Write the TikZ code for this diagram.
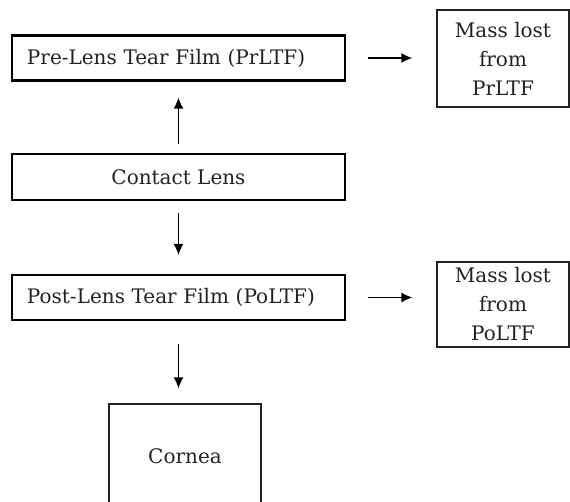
\documentclass[tikz,border=0pt]{standalone}
\usepackage{fontspec}
\setmainfont{DejaVu Serif}
\usepackage{tikz}
\usetikzlibrary{positioning,calc,arrows.meta}
\definecolor{inkgray}{HTML}{222222}
\tikzset{flow/.style={-{Latex[length=11pt,width=10pt]},line width=1.3pt,black}}

\begin{document}
\begin{tikzpicture}[x=1pt,y=-1pt]
		\tikzstyle{Film}=[rectangle,draw=black,line width=2.2pt,minimum height=45pt,text width=303pt,inner xsep=15pt,align=left,text=inkgray,font=\fontsize{20}{23}\selectfont]
		\tikzstyle{Lens}=[rectangle,draw=black,line width=2.2pt,minimum height=46pt,minimum width=333pt,align=center,text=inkgray,font=\fontsize{20}{23}\selectfont]
		\tikzstyle{Loss}=[rectangle,draw=inkgray,line width=1.3pt,minimum width=132pt,align=center,text=inkgray,font=\fontsize{20}{29}\selectfont]
		\tikzstyle{Tissue}=[rectangle,draw=inkgray,line width=1.3pt,minimum width=152pt,minimum height=104pt,align=center,text=inkgray,font=\fontsize{20}{23}\selectfont]

		\useasboundingbox (0,0) rectangle (570,501);

		\node [Film] (PrLTF) at (178.5,58) {Pre-Lens Tear Film (PrLTF)};
		\node [Lens] (Lens) at (178.5,177) {Contact Lens};
		\node [Film] (PoLTF) at (178.5,297.5) {Post-Lens Tear Film (PoLTF)};
		\node [Loss,minimum height=97pt] (LossPr) at (503,58.5) {Mass lost\\from\\PrLTF};
		\node [Loss,minimum height=85pt] (LossPo) at (503,304.5) {Mass lost\\from\\PoLTF};
		\node [Tissue] (Cornea) at (185,456) {Cornea};

		\draw [flow,shorten <=9pt,shorten >=16pt] (Lens.north) -- (PrLTF.south);
		\draw [flow,shorten <=12pt,shorten >=19pt] (Lens.south) -- (PoLTF.north);
		\draw [flow,shorten <=23pt,shorten >=15pt] (PoLTF.south) -- (PoLTF.south |- Cornea.north);
		\draw [flow,shorten <=22pt,shorten >=24pt] (PrLTF.east) -- (PrLTF.east -| LossPr.west);
		\draw [flow,shorten <=22pt,shorten >=24pt] (PoLTF.east) -- (PoLTF.east -| LossPo.west);
\end{tikzpicture}
\end{document}
